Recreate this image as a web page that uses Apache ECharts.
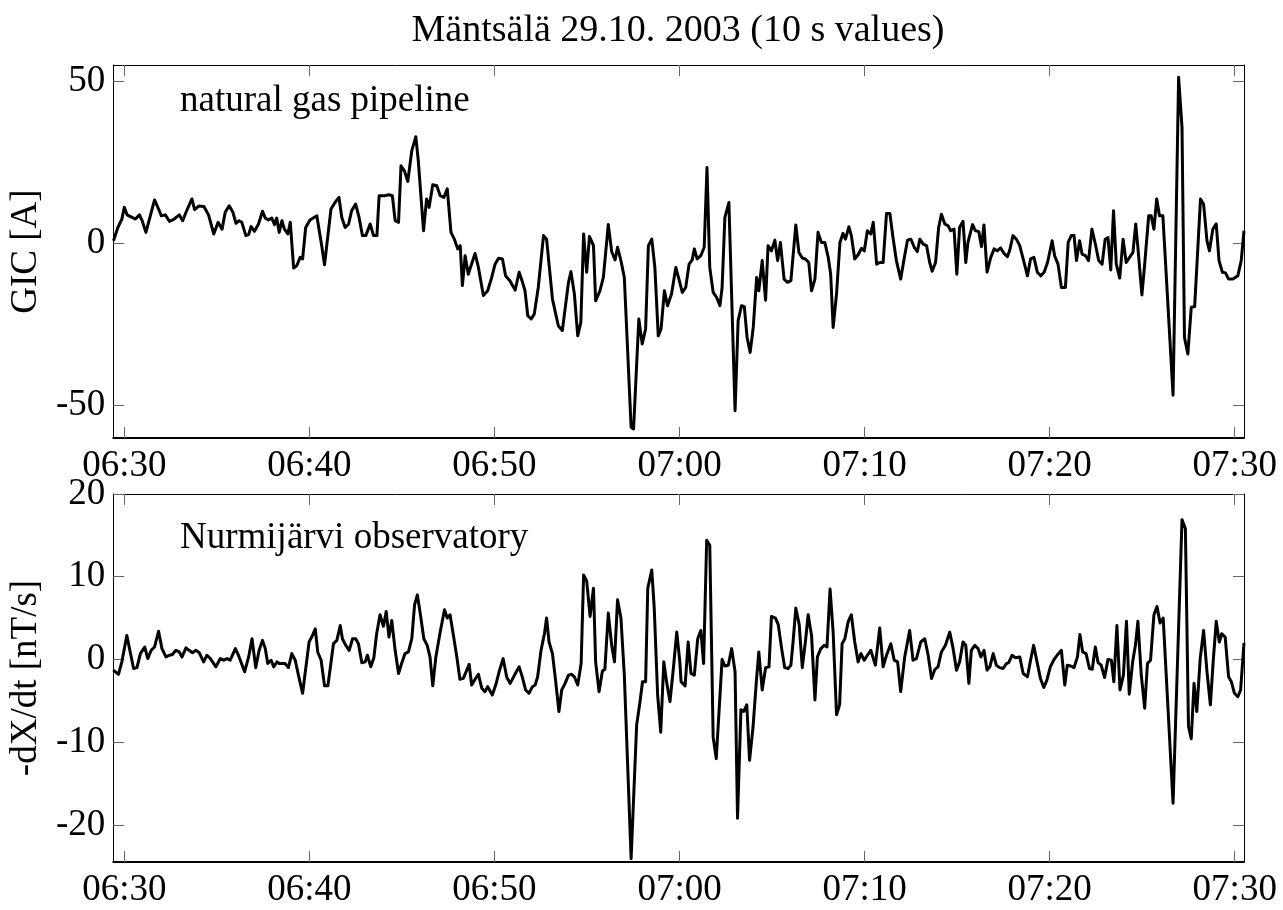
<!DOCTYPE html>
<html>
<head>
<meta charset="utf-8">
<title>Mäntsälä 29.10.2003</title>
<script src="https://cdn.jsdelivr.net/npm/echarts@6/dist/echarts.min.js"></script>
<style>
  html, body { margin: 0; padding: 0; background: #fff; }
  #chart { width: 1283px; height: 910px; }
</style>
</head>
<body>
<div id="chart"></div>
<script>
// time axis: seconds after 06:30:00
var gicTime = [
  -35,-21,-8,0,9,25,36,49,57,70,98,111,120,133,146,160,178,189,200,219,228,241,258,273,290,304,317,327,340,352,
  362,372,381,394,403,411,422,435,448,457,467,478,487,494,502,511,519,530,538,549,559,570,
  578,588,602,624,640,649,670,683,696,705,716,727,737,750,761,772,783,797,808,819,826,843,858,869,878,889,897,908,
  919,932,945,953,970,980,988,1000,1013,1024,1036,1047,1059,1070,1081,1089,1096,1105,1115,1137,1148,1164,1178,
  1191,1202,1213,1226,1236,1250,1267,1280,1291,1299,1308,1319,1329,1342,1359,1369,1388,1407,1420,1440,1448,1459,
  1470,1480,1489,1499,1508,1521,1528,1542,1553,1569,1580,1591,1599,1610,1621,1643,1651,1668,1679,1690,1699,1710,
  1720,1731,1740,1751,1761,1774,1788,1798,
  1809,1820,1831,1841,1848,1857,1869,1880,1889,1898,1909,1920,1931,1938,1947,1960,1980,1990,2001,2010,2019,2029,
  2039,2050,2057,2068,2079,2087,2098,2109,2118,2127,2139,2150,2161,2177,2187,2198,2208,2219,2228,2239,2249,2260,
  2271,2282,2290,2298,2309,2320,2330,2338,2349,2357,2368,2379,2390,2399,2409,2420,
  2428,2439,2449,2460,2471,2482,2492,2503,2517,2528,2539,2550,2561,2571,2579,2590,2601,2611,2619,2630,2640,2649,
  2660,2671,2679,2690,2699,2708,2719,2728,2735,2750,2759,2770,2779,2787,2797,2809,2820,2830,2841,2852,2863,2870,
  2881,2892,2903,2914,2928,2938,2949,2960,2971,2982,2993,3008,3016,3027,3038,
  3051,3060,3070,3079,3087,3097,3105,3116,3126,3137,3148,3159,3170,3180,3189,3198,3207,3216,3227,3238,3248,3259,
  3270,3279,3286,3299,3308,3321,3329,3338,3347,3356,3367,3400,3418,3429,3437,3448,3459,3470,3489,3499,3510,3518,
  3529,3540,3549,3560,3570,3580,3594,3610,3621,3630
];
var gicValue = [
  0.8,4.9,7.5,11.1,8.8,8.0,7.5,8.8,7.2,3.4,13.4,10.6,8.5,8.8,6.8,7.4,8.8,7.0,9.6,13.7,10.4,11.5,11.4,8.8,2.9,6.5,4.4,9.6,11.6,9.6,
  6.2,7.0,6.5,2.4,2.7,5.2,3.7,6.0,9.9,7.8,7.2,7.8,5.8,7.8,3.4,7.0,4.4,2.9,6.5,-7.6,-6.9,-4.3,
  -4.8,4.9,7.2,8.5,-0.7,-6.6,10.6,12.6,14.2,8.0,4.9,5.9,10.1,12.1,8.0,2.4,2.4,6.0,2.4,2.4,14.7,14.7,15.0,14.7,7.0,6.5,23.9,22.4,
  19.1,28.6,32.9,25.5,3.9,13.7,11.1,18.1,17.8,14.7,14.2,16.8,3.4,1.3,-1.7,-0.7,-13.0,-3.8,-9.5,-3.1,-7.4,-16.1,-14.6,
  -10.5,-6.4,-4.6,-4.8,-10.0,-11.5,-14.4,-8.9,-12.0,-14.6,-22.3,-23.3,-21.8,-13.6,2.4,1.3,-17.2,-25.4,-26.9,-12.0,-8.7,-15.6,
  -28.5,-24.4,2.9,-8.9,2.1,-0.7,-17.7,-14.6,-10.5,5.8,-2.5,-5.1,-1.2,-5.3,-10.5,-56.7,-57.2,-23.3,-31.0,-26.4,-0.7,1.3,
  -7.4,-28.5,-26.4,-14.6,-19.2,-15.6,-7.4,-11.0,
  -15.1,-13.6,-6.4,-5.1,-1.7,-4.8,-3.8,-1.2,23.4,-7.4,-15.1,-16.6,-19.2,-13.6,8.0,12.6,-51.6,-23.8,-19.2,-19.5,-29.0,-33.6,
  -25.9,-10.5,-14.6,-5.3,-17.5,-0.7,-2.3,1.0,-5.3,0.3,-11.0,-12.0,-11.5,5.7,-2.8,-4.5,-4.8,-5.9,-14.6,-11.0,3.4,0.3,
  0.3,-4.3,-9.5,-25.9,-15.6,0.3,3.1,1.3,5.1,2.4,-4.8,-3.5,-1.5,-2.3,3.9,2.9,
  6.5,-6.4,-5.9,-5.9,9.2,9.2,1.8,-5.3,-11.0,-4.8,1.0,1.3,-1.2,-2.5,1.3,-0.2,-0.7,-5.9,-8.6,-5.9,4.9,9.0,
  6.0,5.4,3.9,4.4,-9.5,4.9,6.8,-5.9,0.3,5.8,3.9,3.7,-1.0,5.7,-8.9,-4.3,-1.7,-2.3,-1.4,-3.1,-4.1,-2.3,
  2.4,1.3,-0.7,-4.8,-10.0,-4.8,-4.3,-8.9,-10.0,-8.9,-5.9,0.8,-3.8,-6.4,-13.6,
  -13.6,0.3,2.4,2.4,-5.3,0.8,-3.3,-3.8,-5.3,4.4,-0.2,-5.3,-6.4,1.3,1.8,-8.2,10.1,-6.4,-10.7,1.3,-5.9,-4.3,
  -2.8,6.0,-1.2,-15.9,-6.4,8.5,8.5,4.4,13.7,8.5,8.5,-46.8,51.2,35.8,-29.0,-34.1,-19.7,-19.5,13.7,12.1,0.8,-2.3,
  4.4,6.0,-5.3,-8.9,-9.1,-11.0,-11.0,-10.0,-5.3,3.9
];

var dxTime = [
  -36,-19,-8,8,30,41,52,66,76,87,98,111,122,135,146,156,167,178,187,200,210,221,232,243,257,268,279,297,311,322,
  333,343,360,370,390,403,414,426,437,448,457,465,476,484,495,502,521,532,543,554,
  565,578,599,610,619,627,638,649,660,678,689,700,707,718,729,740,750,759,770,781,788,799,809,818,829,840,849,858,867,878,
  889,899,910,921,932,941,950,960,971,982,991,1000,1010,1024,1038,1047,1056,1067,1078,1088,1099,1118,1126,1137,1148,1159,1169,1178,
  1193,1204,1215,1228,1240,1251,1265,1280,1290,1301,1312,1323,1332,1340,1351,1362,1369,1377,1388,1398,
  1409,1418,1429,1440,1450,1459,1470,1481,1489,1499,1510,1521,1528,1539,1550,1558,1569,1580,1589,1599,
  1610,1621,1643,1661,1672,1680,1690,1697,1710,1718,1729,1739,1749,1758,1769,1780,1791,1801,
  1805,1818,1828,1837,1848,1859,1869,1878,1888,1898,1909,1919,1938,1947,1958,1969,1980,1988,1999,2008,
  2018,2027,2038,2049,2057,2068,2079,2090,2098,2111,2120,2131,2141,2152,2161,2168,2177,2188,2198,2208,
  2217,2228,2239,2247,2258,2269,2278,2288,2298,2309,2319,2327,2336,2347,2357,2368,2379,2388,2399,2409,2420,
  2435,2449,2460,2471,2485,2496,2507,2517,2530,2546,2557,2568,2582,2595,2606,2617,2628,2638,2649,2662,
  2676,2687,2698,2708,2719,2728,2738,2746,2757,2768,2777,2787,2797,2806,2817,2827,2838,2849,2860,2867,
  2878,2889,2903,2914,2928,2938,2948,2959,2970,2981,2991,3002,3013,3024,
  3038,3049,3057,3068,3079,3090,3098,3107,3118,3129,3138,3148,3157,3167,3178,3189,3200,3208,3218,3228,
  3239,3249,3258,3269,3278,3286,3297,3308,3317,3327,3338,3348,3358,3368,3400,3429,3440,3450,3459,3468,
  3477,3488,3499,3510,3521,3530,3540,3550,3558,3569,3580,3589,3599,3610,3619,3630
];
var dxValue = [
  -1.3,-1.8,-0.3,2.9,-1.1,-1.0,0.7,1.5,0.1,1.1,1.5,3.4,1.3,0.3,0.5,0.6,1.1,0.9,0.3,1.4,1.1,0.8,1.1,0.8,-0.3,0.5,0.1,-0.9,0.1,-0.1,
  0.1,-0.1,1.3,0.5,-1.5,0.3,2.5,-1.0,1.1,2.3,1.3,-0.5,-0.1,-0.9,-0.3,-0.5,-0.5,-1.0,0.7,-0.1,
  -2.0,-4.1,2.1,2.9,3.7,0.9,-0.1,-3.2,-3.2,1.9,2.3,4.1,2.5,1.7,1.1,2.5,2.5,1.9,-0.4,-0.3,0.5,-0.9,0.2,3.1,5.4,4.0,5.8,2.7,4.7,1.1,
  -1.7,-0.5,0.7,0.9,2.5,6.6,7.8,5.4,2.5,1.7,0.3,-3.2,0.3,3.3,6.0,5.0,5.4,2.9,0.3,-2.4,-2.3,-0.6,-3.1,-2.4,-1.8,-3.5,-3.9,-3.3,
  -4.3,-3.1,-1.5,0.1,-2.2,-2.9,-1.9,-0.9,-2.1,-3.7,-4.1,-3.3,-3.1,-2.1,1.1,3.1,5.0,2.1,0.7,-2.5,
  -6.3,-3.7,-2.9,-1.9,-1.8,-2.1,-3.1,-0.5,10.2,9.5,5.2,8.6,-0.3,-3.9,-1.4,-1.2,5.6,1.7,-0.3,7.2,
  5.0,-1.9,-24.1,-7.9,-5.1,-2.7,-2.7,8.6,10.8,6.2,-4.3,-8.8,-0.3,-2.7,-5.1,-1.1,3.3,-0.3,
  -2.7,-3.2,2.1,-1.7,-1.9,2.5,3.5,-0.5,14.4,13.8,-9.4,-12.0,0.0,-0.8,-0.7,1.3,-1.5,-19.2,-6.1,-6.3,
  -5.5,-12.2,-8.3,-2.7,0.9,-3.7,-1.0,-0.9,5.2,5.0,4.2,1.3,-1.0,-1.1,-0.7,2.1,6.2,4.2,-1.0,2.1,
  5.4,2.9,-4.9,0.3,1.3,1.7,1.5,8.5,3.3,-6.7,-5.5,1.9,2.5,4.6,5.4,2.1,-0.3,0.7,-0.1,0.5,1.1,
  -0.7,3.8,-0.9,0.5,1.9,-0.1,-0.3,-3.9,0.3,3.5,-0.1,0.1,2.1,2.5,0.5,-2.3,-1.2,-0.9,0.9,1.7,
  3.3,1.3,-1.3,-0.3,2.1,1.7,-2.9,1.1,1.7,1.3,0.3,1.1,-1.3,-0.9,0.7,-0.7,-1.0,-1.1,-0.5,-0.4,
  0.5,0.2,0.3,-1.7,-2.1,-0.1,1.7,-0.3,-2.3,-3.4,-2.5,-0.9,-0.1,0.5,
  1.1,-3.1,-0.7,-0.8,-1.0,0.3,3.0,0.9,0.7,-1.1,-1.2,1.5,-0.4,-0.7,-2.2,0.0,-0.1,-2.7,4.1,-3.7,
  -1.9,4.6,-4.2,-0.3,1.7,4.6,-1.9,-5.9,-0.5,-0.1,5.4,6.4,4.4,5.0,-17.4,16.9,15.8,-8.1,-9.6,-2.9,
  -6.3,0.1,3.5,-1.5,-5.5,-0.3,4.6,2.1,3.1,2.7,-2.1,-2.7,-4.1,-4.5,-3.7,2.0
];

var timeTicks = [0, 600, 1200, 1800, 2400, 3000, 3600];
var gicTicks = [-50, 0, 50];
var dxTicks = [-20, -10, 0, 10, 20];

var serif = '"Liberation Serif", "Times New Roman", Times, serif';
var fontSize = 37;

function hhmm(sec) {
  var m = 6 * 60 + 30 + Math.round(sec / 60);
  var h = Math.floor(m / 60), mm = m % 60;
  return (h < 10 ? '0' : '') + h + ':' + (mm < 10 ? '0' : '') + mm;
}

function pairs(t, v) {
  var out = [];
  for (var i = 0; i < t.length; i++) out.push([t[i], v[i]]);
  return out;
}

function xAxis(grid, pos) {
  var bottom = pos === 'bottom';
  return {
    type: 'value', gridIndex: grid, position: pos,
    min: -36, max: 3630,
    axisLine: { show: true, onZero: false, lineStyle: { color: '#000', width: bottom ? 2 : 1 } },
    axisTick: { show: true, inside: true, length: 11, customValues: timeTicks, lineStyle: { color: '#666', width: 1 } },
    axisLabel: {
      show: bottom, customValues: timeTicks, margin: 10,
      color: '#000', fontFamily: serif, fontSize: fontSize,
      formatter: hhmm
    },
    splitLine: { show: false }
  };
}

function yAxis(grid, pos, min, max, ticks, name) {
  var left = pos === 'left';
  return {
    type: 'value', gridIndex: grid, position: pos,
    min: min, max: max,
    name: left ? name : '', nameLocation: 'middle', nameGap: 64, nameRotate: 90,
    nameTextStyle: { color: '#000', fontFamily: serif, fontSize: fontSize },
    axisLine: { show: true, onZero: false, lineStyle: { color: '#000', width: 1 } },
    axisTick: { show: true, inside: true, length: 11, customValues: ticks, lineStyle: { color: '#666', width: 1 } },
    axisLabel: {
      show: left, customValues: ticks, margin: 8,
      color: '#000', fontFamily: serif, fontSize: fontSize
    },
    splitLine: { show: false }
  };
}

var chart = echarts.init(document.getElementById('chart'), null, { renderer: 'canvas' });

var option = {
  animation: false,
  backgroundColor: '#fff',
  grid: [
    { left: 113, top: 65, width: 1131, height: 373 },
    { left: 113, top: 494, width: 1131, height: 368 }
  ],
  xAxis: [
    xAxis(0, 'bottom'), xAxis(0, 'top'),
    xAxis(1, 'bottom'), xAxis(1, 'top')
  ],
  yAxis: [
    yAxis(0, 'left', -60, 55, gicTicks, 'GIC [A]'),
    yAxis(0, 'right', -60, 55, gicTicks, ''),
    yAxis(1, 'left', -24.5, 20, dxTicks, '-dX/dt [nT/s]'),
    yAxis(1, 'right', -24.5, 20, dxTicks, '')
  ],
  graphic: [
    {
      type: 'text', x: 678, y: 31,
      style: { text: 'Mäntsälä 29.10. 2003 (10 s values)', font: '38px ' + serif, fill: '#000', align: 'center', verticalAlign: 'middle' }
    },
    {
      type: 'text', x: 180, y: 101,
      style: { text: 'natural gas pipeline', font: fontSize + 'px ' + serif, fill: '#000', align: 'left', verticalAlign: 'middle' }
    },
    {
      type: 'text', x: 180, y: 538,
      style: { text: 'Nurmijärvi observatory', font: fontSize + 'px ' + serif, fill: '#000', align: 'left', verticalAlign: 'middle' }
    }
  ],
  series: [
    {
      name: 'GIC', type: 'line', xAxisIndex: 0, yAxisIndex: 0,
      data: pairs(gicTime, gicValue),
      showSymbol: false, clip: true,
      lineStyle: { color: '#000', width: 3, join: 'round' }
    },
    {
      name: 'dX/dt', type: 'line', xAxisIndex: 2, yAxisIndex: 2,
      data: pairs(dxTime, dxValue),
      showSymbol: false, clip: true,
      lineStyle: { color: '#000', width: 3, join: 'round' }
    }
  ]
};

chart.setOption(option);
</script>
</body>
</html>
